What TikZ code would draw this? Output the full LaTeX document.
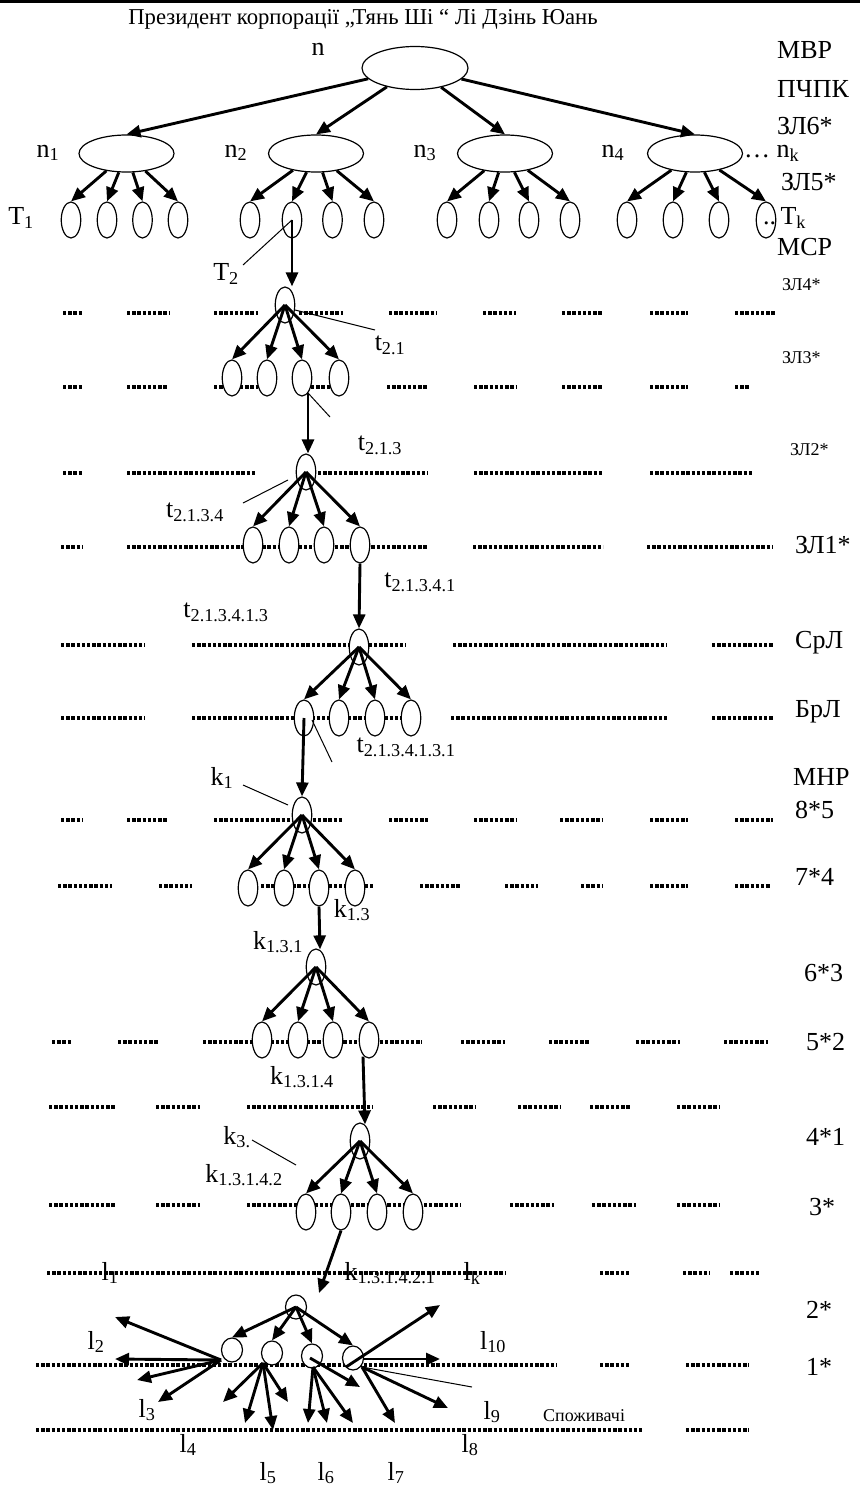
\documentclass[tikz,border=0pt]{standalone}
\usepackage{fontspec}
\setmainfont{Liberation Serif}
\usetikzlibrary{shapes.geometric,arrows.meta}
\newcommand{\sbs}[1]{\textsubscript{#1}}
\begin{document}
\begin{tikzpicture}[x=1pt,y=-1pt,
  lab/.style={font=\fontsize{26}{28}\selectfont, inner sep=0pt},
  slab/.style={font=\fontsize{18}{20}\selectfont, inner sep=0pt},
  ttl/.style={font=\fontsize{22.7}{24}\selectfont, inner sep=0pt},
  bigE/.style={ellipse, draw, line width=1.2pt, fill=white, minimum width=95pt, minimum height=37pt, inner sep=0pt},
  rootE/.style={bigE, minimum width=106pt, minimum height=43pt},
  leaf/.style={ellipse, draw, line width=1.2pt, fill=white, minimum width=19.5pt, minimum height=36pt, inner sep=0pt},
  smallE/.style={leaf, minimum width=21pt, minimum height=24pt},
  arr/.style={line width=2.9pt, -{Triangle[length=14pt,width=12pt]}},
  fine/.style={line width=1pt},
  dots/.style={line width=4pt, dash pattern=on 3.4pt off 1.8pt},
]
\useasboundingbox (0,0) rectangle (860,1491);
\draw[line width=3pt] (0,1.5) -- (860,1.5);

% ---------- labels ----------
\node[ttl] (title) at (363,19) {Президент корпорації „Тянь Ші “ Лі Дзінь Юань};
\node[lab] (ln) at (318,49) {n};
\node[lab] (ln1) at (48,153) {n\sbs{1}};
\node[lab] (ln2) at (236,153) {n\sbs{2}};
\node[lab] (ln3) at (425,153) {n\sbs{3}};
\node[lab] (ln4) at (613,153) {n\sbs{4}};
\node[lab,anchor=west] (lnk) at (744,153) {\ldots{} n\sbs{k}};
\node[lab] (lT1) at (21,218) {T\sbs{1}};
\node[lab] (lT2) at (226,274) {T\sbs{2}};
\node[lab] (lt21) at (390,345) {t\sbs{2.1}};
\node[lab] (lt213) at (380,445) {t\sbs{2.1.3}};
\node[lab] (lt2134) at (195,512) {t\sbs{2.1.3.4}};
\node[lab] (lt21341) at (420,582) {t\sbs{2.1.3.4.1}};
\node[lab] (lt213413) at (226,612) {t\sbs{2.1.3.4.1.3}};
\node[lab] (lt2134131) at (406,747) {t\sbs{2.1.3.4.1.3.1}};
\node[lab] (lk1) at (222,778) {k\sbs{1}};
\node[lab] (lk13) at (352,910) {k\sbs{1.3}};
\node[lab] (lk131) at (278,942) {k\sbs{1.3.1}};
\node[lab] (lk1314) at (302,1077) {k\sbs{1.3.1.4}};
\node[lab] (lk3) at (237,1137) {k\sbs{3.}};
\node[lab] (lk13142) at (244,1175) {k\sbs{1.3.1.4.2}};
\node[lab] (ll1) at (110,1273) {l\sbs{1}};
\node[lab] (lk131421) at (390,1273) {k\sbs{1.3.1.4.2.1}};
\node[lab] (llk) at (472,1273) {l\sbs{k}};
\node[lab] (ll2) at (96,1342) {l\sbs{2}};
\node[lab] (ll10) at (493,1342) {l\sbs{10}};
\node[lab] (ll3) at (147,1410) {l\sbs{3}};
\node[lab] (ll9) at (492,1412) {l\sbs{9}};
\node[slab,anchor=west] (cons) at (543,1416) {Споживачі};
\node[lab] (ll4) at (188,1445) {l\sbs{4}};
\node[lab] (ll8) at (470,1445) {l\sbs{8}};
\node[lab] (ll5) at (268,1473) {l\sbs{5}};
\node[lab] (ll6) at (326,1473) {l\sbs{6}};
\node[lab] (ll7) at (396,1473) {l\sbs{7}};

% right column
\node[lab,anchor=west] (r1) at (777,50) {МВР};
\node[lab,anchor=west] (r2) at (777,89) {ПЧПК};
\node[lab,anchor=west] (r3) at (777,126) {ЗЛ6*};
\node[lab,anchor=west] (r4) at (781,182) {ЗЛ5*};
\node[lab,anchor=west] (r5) at (777,247) {МСР};
\node[slab,anchor=west] (r6) at (782,285) {ЗЛ4*};
\node[slab,anchor=west] (r7) at (782,358) {ЗЛ3*};
\node[slab,anchor=west] (r8) at (790,450) {ЗЛ2*};
\node[lab,anchor=west] (r9) at (795,545) {ЗЛ1*};
\node[lab,anchor=west] (r10) at (795,643) {СрЛ};
\node[lab,anchor=west] (r11) at (795,712) {БрЛ};
\node[lab,anchor=west] (r12) at (793,777) {МНР};
\node[lab,anchor=west] (r13) at (795,810) {8*5};
\node[lab,anchor=west] (r14) at (795,877) {7*4};
\node[lab,anchor=west] (r15) at (804,973) {6*3};
\node[lab,anchor=west] (r16) at (806,1042) {5*2};
\node[lab,anchor=west] (r17) at (806,1137) {4*1};
\node[lab,anchor=west] (r18) at (809,1207) {3*};
\node[lab,anchor=west] (r19) at (806,1310) {2*};
\node[lab,anchor=west] (r20) at (806,1367) {1*};

% ---------- dotted rows ----------
\foreach \a/\b in {63/82,127/170,214/258,299/343,389/436,483/516,562/603,650/688,735/776} \draw[dots] (\a,313) -- (\b,313);
\foreach \a/\b in {63/82,127/167,214/258,311/333,387/428,474/516,562/603,650/688,735/749} \draw[dots] (\a,387) -- (\b,387);
\foreach \a/\b in {63/82,127/255,318/428,474/603,650/752} \draw[dots] (\a,473) -- (\b,473);
\foreach \a/\b in {61/82,127/428,473/603,647/773} \draw[dots] (\a,547) -- (\b,547);
\foreach \a/\b in {61/145,192/406,453/667,712/773} \draw[dots] (\a,645) -- (\b,645);
\foreach \a/\b in {61/145,192/406,451/667,712/773} \draw[dots] (\a,718) -- (\b,718);
\foreach \a/\b in {61/82,127/167,214/343,389/428,474/516,560/603,650/688,735/773} \draw[dots] (\a,820) -- (\b,820);
\foreach \a/\b in {58/112,159/192,261/373,420/461,505/538,581/603,650/688,735/771} \draw[dots] (\a,886) -- (\b,886);
\foreach \a/\b in {52/71,118/159,203/422,461/505,549/590,636/680,724/768} \draw[dots] (\a,1042) -- (\b,1042);
\foreach \a/\b in {49/115,156/200,247/373,433/475,518/560,590/631,677/719} \draw[dots] (\a,1107) -- (\b,1107);
\foreach \a/\b in {49/115,156/200,247/461,510/554,592/636,677/719} \draw[dots] (\a,1205) -- (\b,1205);
\foreach \a/\b in {47/505,600/631,683/710,730/760} \draw[dots] (\a,1273) -- (\b,1273);
\foreach \a/\b in {36/557,600/631,686/749} \draw[dots] (\a,1365) -- (\b,1365);
\foreach \a/\b in {36/642,686/749} \draw[dots] (\a,1430) -- (\b,1430);

% ---------- ellipses ----------
\node[rootE] (n) at (415,68) {};
\node[bigE] (n1) at (126.5,153.5) {};
\node[bigE] (n2) at (316,153.5) {};
\node[bigE] (n3) at (505,153.5) {};
\node[bigE] (n4) at (695,153.5) {};
\foreach \x [count=\i] in {71,107,142.5,178} \node[leaf] (l1\i) at (\x,220) {};
\foreach \x [count=\i] in {250,292,332.5,374} \node[leaf] (l2\i) at (\x,220) {};
\foreach \x [count=\i] in {447,489,529,570} \node[leaf] (l3\i) at (\x,220) {};
\foreach \x [count=\i] in {627,673,719,766} \node[leaf] (l4\i) at (\x,220) {};
\node[leaf] (e41) at (285,305) {};
\foreach \x [count=\i] in {232,267,302,339} \node[leaf] (e3\i) at (\x,378) {};
\node[leaf] (e21) at (306,472) {};
\foreach \x [count=\i] in {253,289,324,360} \node[leaf] (e1\i) at (\x,545) {};
\node[leaf] (s1) at (359,647) {};
\foreach \x [count=\i] in {304,339,375,411} \node[leaf] (r\i) at (\x,718) {};
\node[leaf] (m1) at (302,815) {};
\foreach \x [count=\i] in {248,284,319,355} \node[leaf] (q\i) at (\x,888) {};
\node[leaf] (h1) at (316,967) {};
\foreach \x [count=\i] in {262,298,333,369} \node[leaf] (f\i) at (\x,1040) {};
\node[leaf] (g1) at (360,1141) {};
\foreach \x [count=\i] in {306,341,377,413} \node[leaf] (u\i) at (\x,1212) {};
\node[smallE] (z0) at (296,1307) {};
\node[smallE] (z1) at (232,1350) {};
\node[smallE] (z2) at (272,1353) {};
\node[smallE] (z3) at (312,1356) {};
\node[smallE] (z4) at (353,1358) {};

\node[lab,anchor=west] (lTk) at (763,218) {..\,T\sbs{k}};

% ---------- arrows ----------
\foreach \k in {1,...,4} \draw[arr] (n) -- (n\k.north);
\foreach \k in {1,...,4} {
  \foreach \j in {1,...,4} \draw[arr] (n\k) -- (l\k\j.north);
}
\draw[arr] (l22.center) -- (l22.center |- e41.north);
\foreach \j in {1,...,4} \draw[arr] (e41.center) -- (e3\j.north);
\draw[arr] ([xshift=6pt,yshift=4pt]e33.south) -- ([xshift=2pt]e21.north);
\foreach \j in {1,...,4} \draw[arr] (e21.center) -- (e1\j.north);
\draw[arr] (e14.south) -- (s1.north);
\foreach \j in {1,...,4} \draw[arr] (s1.center) -- (r\j.north);
\draw[arr] (r1.center) -- (m1.north);
\foreach \j in {1,...,4} \draw[arr] (m1.center) -- (q\j.north);
\draw[arr] (q3.south) -- ([xshift=4pt,yshift=-1pt]h1.north);
\foreach \j in {1,...,4} \draw[arr] (h1.center) -- (f\j.north);
\draw[arr] ([xshift=-6pt,yshift=2pt]f4.south) -- ([xshift=5pt,yshift=-2pt]g1.north);
\foreach \j in {1,...,4} \draw[arr] (g1.center) -- (u\j.north);
\coordinate (zt) at (319,1293);
\draw[arr] (u2.south) -- (zt);
\foreach \j in {1,...,4} \draw[arr] (z0.center) -- (z\j.north);

% pointer lines
\coordinate (pT2) at (243,265);
\draw[fine] (pT2) -- (l22.center);
\coordinate (pt21a) at (295,310); \coordinate (pt21b) at (375,330);
\draw[fine] (pt21a) -- (pt21b);
\coordinate (pt213a) at (308,393); \coordinate (pt213b) at (330,417);
\draw[fine] (pt213a) -- (pt213b);
\coordinate (pt2134a) at (243,503); \coordinate (pt2134b) at (288,480);
\draw[fine] (pt2134a) -- (pt2134b);
\coordinate (pt21341a) at (312,720); \coordinate (pt21341b) at (332,762);
\draw[fine] (pt21341a) -- (pt21341b);
\coordinate (pk1a) at (243,785); \coordinate (pk1b) at (288,805);
\draw[fine] (pk1a) -- (pk1b);
\coordinate (pk3a) at (252,1140); \coordinate (pk3b) at (296,1165);
\draw[fine] (pk3a) -- (pk3b);

% bottom fan-out
\coordinate (o1) at (221,1360);
\coordinate (w1) at (115,1317); \coordinate (w2) at (115,1359);
\coordinate (w3) at (137,1380); \coordinate (w4) at (158,1402);
\foreach \w in {w1,w2,w3,w4} \draw[arr] (o1) -- (\w);
\coordinate (o2) at (263,1363);
\coordinate (v1) at (223,1402); \coordinate (v2) at (245,1423);
\coordinate (v3) at (273,1430); \coordinate (v4) at (288,1402);
\foreach \w in {v1,v2,v3,v4} \draw[arr] (o2) -- (\w);
\coordinate (o3) at (313,1367);
\coordinate (x1) at (308,1423); \coordinate (x2) at (327,1423); \coordinate (x3) at (353,1423);
\foreach \w in {x1,x2,x3} \draw[arr] (o3) -- (\w);
\coordinate (o3b) at (310,1358); \coordinate (x4) at (360,1387);
\draw[arr] (o3b) -- (x4);
\coordinate (o4) at (346,1367); \coordinate (y1) at (440,1305);
\draw[arr] (o4) -- (y1);
\coordinate (o4b) at (363,1359); \coordinate (y2) at (440,1359);
\draw[arr] (o4b) -- (y2);
\coordinate (o4c) at (362,1367); \coordinate (y3) at (448,1408); \coordinate (y4) at (395,1423);
\draw[arr] (o4c) -- (y3);
\draw[arr] (o4c) -- (y4);
\coordinate (y5) at (472,1387);
\draw[fine] (o4c) -- (y5);
\end{tikzpicture}
\end{document}
